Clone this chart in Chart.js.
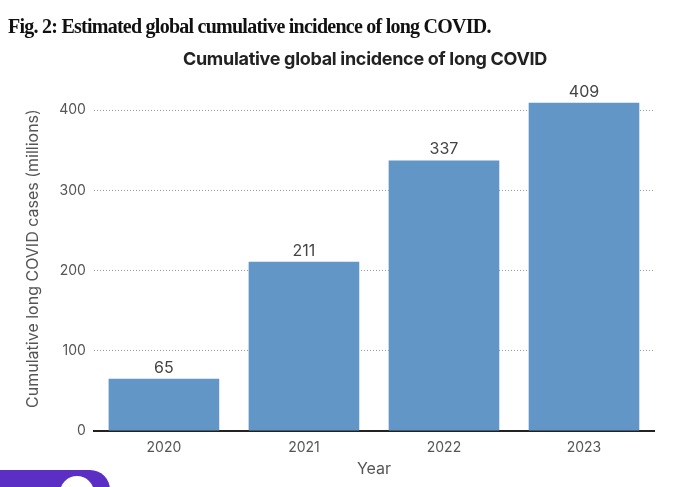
<!DOCTYPE html>
<html>
<head>
<meta charset="utf-8">
<script src="https://cdn.jsdelivr.net/npm/chart.js@4"></script>
<style>
  body { margin: 0; background: #fff; }
  #wrap { position: relative; width: 680px; height: 487px; overflow: hidden; }
  #fig { position: absolute; left: 8px; top: 15px; font: bold 20px "Liberation Serif", serif; color: #111; letter-spacing: -0.75px; }
  #titulo { position: absolute; left: 50px; width: 630px; top: 48px; text-align: center; font: bold 18px Inter, sans-serif; color: #222; letter-spacing: -0.3px; }
  #botao { position: absolute; left: -20px; top: 470px; width: 130px; height: 40px; background: #5b2fc4; border-radius: 20px; }
  #botao span { position: absolute; left: 80px; top: 6px; width: 34px; height: 34px; border-radius: 50%; background: #fff; }
  canvas { position: absolute; left: 0; top: 0; }
</style>
</head>
<body>
<div id="wrap">
  <canvas id="barChart" width="680" height="487"></canvas>
  <div id="fig">Fig. 2: Estimated global cumulative incidence of long COVID.</div>
  <div id="titulo">Cumulative global incidence of long COVID</div>
  <div id="botao"><span></span></div>
</div>
<script>
// Dados do gráfico
const anos = ["2020", "2021", "2022", "2023"];
const casos = [65, 211, 337, 409];
const ticksY = [0, 100, 200, 300, 400];

// Plugin simples para escrever o valor acima de cada barra
const rotulos = {
  id: "rotulos",
  afterDatasetsDraw(chart) {
    const ctx = chart.ctx;
    const meta = chart.getDatasetMeta(0);
    ctx.save();
    ctx.font = "16px Inter, sans-serif";
    ctx.fillStyle = "#444";
    ctx.textAlign = "center";
    ctx.textBaseline = "bottom";
    meta.data.forEach((bar, i) => {
      ctx.fillText(casos[i], bar.x, bar.y - 3);
    });
    ctx.restore();
  }
};

const ctxBar = document.getElementById("barChart").getContext("2d");

new Chart(ctxBar,
{
  type: "bar",
  data:
  {
    labels: anos,
    datasets: [
    {
      data: casos,
      backgroundColor: "#6196c7",
      barPercentage: 0.79,
      categoryPercentage: 1
    }]
  },
  options:
  {
    responsive: false,
    animation: false,
    layout: { padding: { top: 86, left: 20, right: 26, bottom: 8 } },
    plugins:
    {
      legend: { display: false },
      tooltip: { enabled: false }
    },
    scales:
    {
      x:
      {
        grid: { display: false },
        border: { display: true, color: "#222", width: 2 },
        ticks: { color: "#555", font: { family: "Inter", size: 14 }, padding: 0 },
        title: { display: true, text: "Year", color: "#555", font: { family: "Inter", size: 16 }, padding: { top: 4, bottom: 0 } }
      },
      y:
      {
        min: 0,
        max: 430,
        afterBuildTicks: axis => { axis.ticks = ticksY.map(v => ({ value: v })); },
        grid: { color: "#9a9a9a", lineWidth: 1, drawTicks: false },
        border: { display: false, dash: [1, 2] },
        ticks: { color: "#555", font: { family: "Inter", size: 14 }, padding: 8 },
        title: { display: true, text: "Cumulative long COVID cases (millions)", color: "#555", font: { family: "Inter", size: 16 }, padding: { bottom: 8 } }
      }
    }
  },
  plugins: [rotulos]
});
</script>
</body>
</html>
